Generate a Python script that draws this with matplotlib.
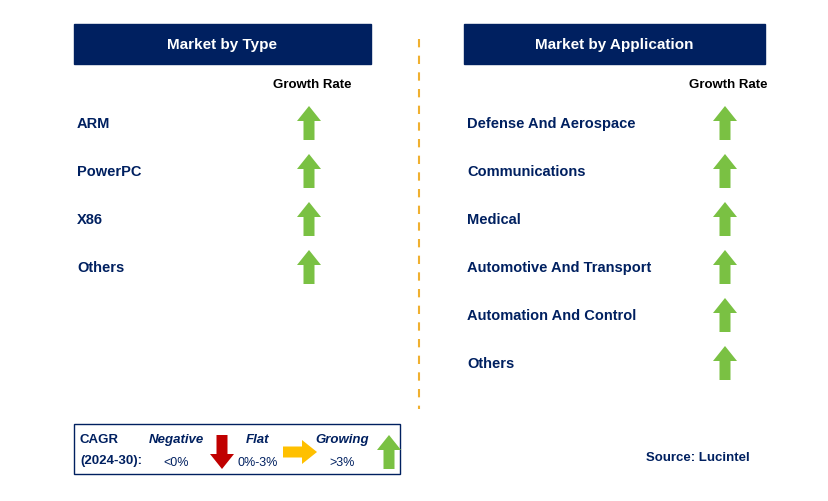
import matplotlib
matplotlib.use('Agg')
import matplotlib.pyplot as plt
from matplotlib.patches import Polygon, Rectangle

plt.rcParams['font.family'] = 'Liberation Sans'

type_labels = ['ARM', 'PowerPC', 'X86', 'Others']
app_labels = ['Defense And Aerospace', 'Communications', 'Medical',
              'Automotive And Transport', 'Automation And Control', 'Others']
# 1 = growing for every segment
type_trend = [1, 1, 1, 1]
app_trend = [1, 1, 1, 1, 1, 1]

NAVY = '#002060'
GREEN = '#7ac143'
RED = '#c00000'
YELLOW = '#ffc000'

fig = plt.figure(figsize=(8.29, 5.02), dpi=100)
ax = fig.add_axes([0, 0, 1, 1])
ax.set_xlim(0, 829)
ax.set_ylim(502, 0)
ax.axis('off')


def arrow(cx, cy, direction, color, length=34, shaft=11, head=24, headlen=15):
    # polygon arrow centred on (cx, cy)
    h = length / 2
    if direction == 'up':
        pts = [(cx - shaft/2, cy + h), (cx - shaft/2, cy - h + headlen), (cx - head/2, cy - h + headlen),
               (cx, cy - h), (cx + head/2, cy - h + headlen), (cx + shaft/2, cy - h + headlen),
               (cx + shaft/2, cy + h)]
    elif direction == 'down':
        pts = [(cx - shaft/2, cy - h), (cx - shaft/2, cy + h - headlen), (cx - head/2, cy + h - headlen),
               (cx, cy + h), (cx + head/2, cy + h - headlen), (cx + shaft/2, cy + h - headlen),
               (cx + shaft/2, cy - h)]
    else:
        pts = [(cx - h, cy - shaft/2), (cx + h - headlen, cy - shaft/2), (cx + h - headlen, cy - head/2),
               (cx + h, cy), (cx + h - headlen, cy + head/2), (cx + h - headlen, cy + shaft/2),
               (cx - h, cy + shaft/2)]
    ax.add_patch(Polygon(pts, closed=True, color=color, lw=0))


def panel(x0, x1, title, labels, trend, arrow_x):
    ax.add_patch(Rectangle((x0, 25), x1 - x0, 40, color=NAVY))
    ax.text((x0 + x1) / 2, 45, title, color='white', fontsize=11, fontweight='bold',
            ha='center', va='center')
    ax.text(arrow_x + 3, 85, 'Growth Rate', color='black', fontsize=9.5, fontweight='bold',
            ha='center', va='center')
    for i, (lab, t) in enumerate(zip(labels, trend)):
        y = 124 + 48 * i
        ax.text(x0 + 3, y, lab, color=NAVY, fontsize=10.5, fontweight='bold', va='center')
        arrow(arrow_x, y, 'up' if t > 0 else 'down', GREEN if t > 0 else RED)


panel(74, 371, 'Market by Type', type_labels, type_trend, 309)
panel(464, 765, 'Market by Application', app_labels, app_trend, 725)

ax.plot([419, 419], [40, 410], color='#f0b030', lw=1.5, ls=(0, (4, 4)))

# legend box
ax.add_patch(Rectangle((74, 425), 326, 50, fill=False, ec=NAVY, lw=1))
ax.text(80, 440, 'CAGR', color=NAVY, fontsize=9.5, fontweight='bold', va='center')
ax.text(80, 461, '(2024-30):', color=NAVY, fontsize=9.5, fontweight='bold', va='center')
for x, name, rng in [(176, 'Negative', '<0%'), (258, 'Flat', '0%-3%'), (342, 'Growing', '>3%')]:
    ax.text(x, 440, name, color=NAVY, fontsize=9.5, fontweight='bold', style='italic',
            ha='center', va='center')
    ax.text(x, 463, rng, color=NAVY, fontsize=9, ha='center', va='center')
arrow(222, 453, 'down', RED)
arrow(300, 453, 'right', YELLOW)
arrow(389, 453, 'up', GREEN)

ax.text(750, 458, 'Source: Lucintel', color=NAVY, fontsize=9.5, fontweight='bold',
        ha='right', va='center')

fig.savefig('out.png', dpi=100)
